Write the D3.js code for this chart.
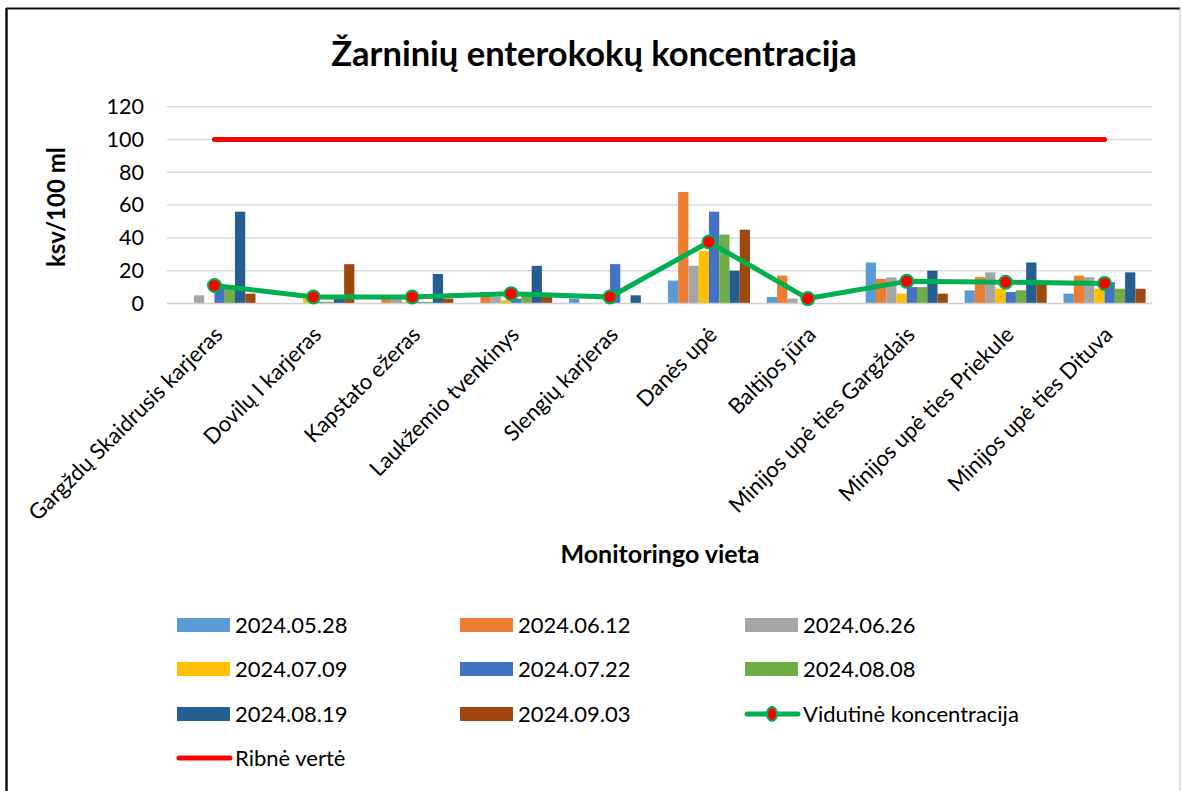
<!DOCTYPE html>
<html>
<head>
<meta charset="utf-8">
<script src="https://cdn.jsdelivr.net/npm/d3@7"></script>
<style>
  html, body { margin: 0; padding: 0; background: #fff; }
  svg { display: block; font-family: Lato, "Open Sans", "Liberation Sans", sans-serif; }
</style>
</head>
<body>
<svg id="chart" width="1181" height="791"></svg>
<script>
// Monitoring sites
const categories = [
  "Gargždų Skaidrusis karjeras", "Dovilų I karjeras", "Kapstato ežeras",
  "Laukžemio tvenkinys", "Slengių karjeras", "Danės upė", "Baltijos jūra",
  "Minijos upė ties Gargždais", "Minijos upė ties Priekule", "Minijos upė ties Dituva"
];

// Sampling dates (bar series)
const seriesNames = ["2024.05.28", "2024.06.12", "2024.06.26", "2024.07.09",
                     "2024.07.22", "2024.08.08", "2024.08.19", "2024.09.03"];
const seriesColors = ["#5b9bd5", "#ed7d31", "#a5a5a5", "#ffc000",
                      "#4472c4", "#70ad47", "#255e91", "#9e480e"];

// Concentration per date, one array per date, in site order (ksv/100 ml)
const v20240528 = [0, 0, 0, 0, 3, 14, 4, 25, 8, 6];
const v20240612 = [0, 0, 5, 7, 0, 68, 17, 15, 16, 17];
const v20240626 = [5, 0, 3, 4, 0, 23, 3, 16, 19, 16];
const v20240709 = [0, 3, 1, 2, 0, 32, 0, 6, 9, 9];
const v20240722 = [10, 1, 1, 3, 24, 56, 0, 10, 7, 13];
const v20240808 = [11, 1, 1, 5, 0, 42, 0, 10, 8, 9];
const v20240819 = [56, 3, 18, 23, 5, 20, 0, 20, 25, 19];
const v20240903 = [6, 24, 3, 4, 0, 45, 0, 6, 12, 9];
const seriesValues = [v20240528, v20240612, v20240626, v20240709,
                      v20240722, v20240808, v20240819, v20240903];

// Average concentration per site
const averageValues = [11, 4, 4, 6, 4, 37.5, 3, 13.5, 13, 12.25];

// Limit value per site
const limitValues = [100, 100, 100, 100, 100, 100, 100, 100, 100, 100];

const yTicks = [0, 20, 40, 60, 80, 100, 120];

const svg = d3.select("#chart");
const W = 1181, H = 791;

// outer chart frame
svg.append("line").attr("x1", 6.5).attr("y1", 8).attr("x2", 6.5).attr("y2", H)
  .attr("stroke", "#111").attr("stroke-width", 2.5);
svg.append("line").attr("x1", 6).attr("y1", 8.5).attr("x2", 1180).attr("y2", 8.5)
  .attr("stroke", "#111").attr("stroke-width", 2);
svg.append("line").attr("x1", 1180).attr("y1", 8).attr("x2", 1180).attr("y2", H)
  .attr("stroke", "#bfbfbf").attr("stroke-width", 1);

const plot = { left: 165, right: 1154, top: 106.7, bottom: 303.5 };

const x = d3.scaleBand().domain(categories).range([plot.left, plot.right]).padding(0);
const y = d3.scaleLinear().domain([0, 120]).range([plot.bottom, plot.top]);
const gap = x.bandwidth() * 0.085;
const xs = d3.scaleBand().domain(seriesNames).range([gap, x.bandwidth() - gap]).padding(0);

// title
svg.append("text")
  .attr("x", 594).attr("y", 66)
  .attr("text-anchor", "middle")
  .attr("font-size", 34.5).attr("font-weight", 700).attr("fill", "#000")
  .text("Žarninių enterokokų koncentracija");

// gridlines
svg.append("g").selectAll("line").data(yTicks.filter(t => t > 0)).join("line")
  .attr("x1", plot.left + 2).attr("x2", plot.right - 2)
  .attr("y1", d => y(d)).attr("y2", d => y(d))
  .attr("stroke", "#d9d9d9").attr("stroke-width", 1.5);

// y axis labels
const yAxis = d3.axisLeft(y).tickValues(yTicks).tickSize(0).tickPadding(0);
const gy = svg.append("g").attr("transform", `translate(${plot.left - 21},0)`).call(yAxis);
gy.select(".domain").remove();
gy.selectAll("text").attr("font-size", 21.5).attr("fill", "#000")
  .attr("font-family", "Lato, 'Open Sans', sans-serif");

// y axis title
svg.append("text")
  .attr("transform", `translate(65,${(plot.top + plot.bottom) / 2 + 2}) rotate(-90)`)
  .attr("text-anchor", "middle")
  .attr("font-size", 24).attr("font-weight", 700)
  .text("ksv/100 ml");

// bars
const groups = svg.append("g").selectAll("g").data(categories).join("g")
  .attr("transform", d => `translate(${x(d)},0)`);
groups.selectAll("rect")
  .data((c, i) => seriesNames.map((s, k) => ({ s, k, v: seriesValues[k][i] })))
  .join("rect")
  .attr("x", d => xs(d.s))
  .attr("width", xs.bandwidth())
  .attr("y", d => y(d.v))
  .attr("height", d => plot.bottom - y(d.v))
  .attr("fill", d => seriesColors[d.k]);

// baseline
svg.append("line")
  .attr("x1", plot.left + 2).attr("x2", plot.right - 2)
  .attr("y1", plot.bottom).attr("y2", plot.bottom)
  .attr("stroke", "#d0d0d0").attr("stroke-width", 1.5);

// x axis labels
const gx = svg.append("g").attr("transform", `translate(0,${plot.bottom})`)
  .call(d3.axisBottom(x).tickSize(0).tickPadding(0));
gx.select(".domain").remove();
gx.selectAll("text")
  .attr("font-size", 22).attr("fill", "#000")
  .attr("font-family", "Lato, 'Open Sans', sans-serif")
  .attr("text-anchor", "end")
  .attr("dy", "0.35em")
  .attr("transform", "translate(4,27) rotate(-45)");

// x axis title
svg.append("text")
  .attr("x", 660).attr("y", 563)
  .attr("text-anchor", "middle")
  .attr("font-size", 25).attr("font-weight", 700)
  .text("Monitoringo vieta");

const cx = c => x(c) + x.bandwidth() / 2;

// limit line
svg.append("path")
  .datum(limitValues)
  .attr("d", d3.line().x((d, i) => cx(categories[i])).y(d => y(d)))
  .attr("fill", "none").attr("stroke", "#ff0000")
  .attr("stroke-width", 5).attr("stroke-linecap", "round");

// average line with markers
svg.append("path")
  .datum(averageValues)
  .attr("d", d3.line().x((d, i) => cx(categories[i])).y(d => y(d)))
  .attr("fill", "none").attr("stroke", "#00b050")
  .attr("stroke-width", 5).attr("stroke-linejoin", "round");
svg.append("g").selectAll("circle").data(averageValues).join("circle")
  .attr("cx", (d, i) => cx(categories[i]))
  .attr("cy", d => y(d))
  .attr("r", 6.5)
  .attr("fill", "#ff0000").attr("stroke", "#00b050").attr("stroke-width", 2);

// legend
const legendItems = seriesNames.map((s, k) => ({ label: s, type: "bar", color: seriesColors[k] }))
  .concat([
    { label: "Vidutinė koncentracija", type: "avg" },
    { label: "Ribnė vertė", type: "limit" }
  ]);
const colX = [177, 460, 745];
const rowY = [625, 669, 714, 758];
const lg = svg.append("g").selectAll("g").data(legendItems).join("g")
  .attr("transform", (d, i) => `translate(${colX[i % 3]},${rowY[Math.floor(i / 3)]})`);
lg.each(function (d) {
  const g = d3.select(this);
  if (d.type === "bar") {
    g.append("rect").attr("x", 0).attr("y", -7).attr("width", 53).attr("height", 14).attr("fill", d.color);
  } else if (d.type === "avg") {
    g.append("line").attr("x1", 2).attr("x2", 53).attr("y1", 0).attr("y2", 0)
      .attr("stroke", "#00b050").attr("stroke-width", 5).attr("stroke-linecap", "round");
    g.append("ellipse").attr("cx", 27).attr("cy", 0).attr("rx", 5).attr("ry", 7)
      .attr("fill", "#ff0000").attr("stroke", "#00b050").attr("stroke-width", 2);
  } else {
    g.append("line").attr("x1", 2).attr("x2", 53).attr("y1", 0).attr("y2", 0)
      .attr("stroke", "#ff0000").attr("stroke-width", 5).attr("stroke-linecap", "round");
  }
  g.append("text").attr("x", 58).attr("y", 0).attr("dy", "0.35em")
    .attr("font-size", 22).attr("fill", "#000").text(d.label);
});
</script>
</body>
</html>
